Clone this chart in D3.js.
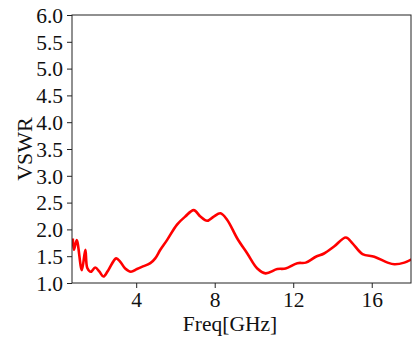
<!DOCTYPE html>
<html>
<head>
<meta charset="utf-8">
<script src="https://cdn.jsdelivr.net/npm/d3@7"></script>
<style>
  body { margin: 0; background: #fff; }
</style>
</head>
<body>
<svg id="chart" width="412" height="339"></svg>
<script>
// frequency (GHz) and VSWR
const freq = [0.77, 0.83, 0.97, 1.23, 1.41, 1.51, 1.69, 1.91, 2.13, 2.33, 2.58, 2.98, 3.18, 3.44, 3.73, 4.04, 4.29, 4.72, 4.97,
  5.23, 5.57, 6.08, 6.50, 6.93, 7.27, 7.61, 7.95, 8.29, 8.63, 9.15, 9.66, 10.17, 10.59, 11.19, 11.61, 12.21, 12.64,
  13.15, 13.57, 14.08, 14.68, 15.02, 15.53, 16.13, 16.81, 17.15, 17.66, 18.07];
const vswr = [1.83, 1.62, 1.80, 1.24, 1.62, 1.28, 1.21, 1.29, 1.21, 1.12, 1.24, 1.46, 1.40, 1.27, 1.21, 1.26, 1.30, 1.37, 1.46,
  1.62, 1.80, 2.09, 2.24, 2.36, 2.24, 2.16, 2.24, 2.30, 2.18, 1.83, 1.55, 1.27, 1.18, 1.26, 1.27, 1.37, 1.38,
  1.49, 1.55, 1.68, 1.85, 1.74, 1.54, 1.49, 1.38, 1.35, 1.38, 1.45];
const xTicks = [4, 8, 12, 16];
const yTicks = [1.0, 1.5, 2.0, 2.5, 3.0, 3.5, 4.0, 4.5, 5.0, 5.5, 6.0];

const serif = '"Liberation Serif", "Times New Roman", "DejaVu Serif", serif';
const fontSize = "21.5px";

const margin = {left: 72, right: 1, top: 15, bottom: 56};
const svg = d3.select("#chart");
const W = +svg.attr("width"), H = +svg.attr("height");

const x = d3.scaleLinear().domain([0.73, 18]).range([margin.left, W - margin.right]);
const y = d3.scaleLinear().domain([1, 6]).range([H - margin.bottom, margin.top]);

svg.append("clipPath").attr("id", "plotClip")
  .append("rect")
  .attr("x", margin.left).attr("y", margin.top)
  .attr("width", W - margin.right - margin.left)
  .attr("height", H - margin.bottom - margin.top);

//axes
const xAxis = svg.append("g")
  .attr("transform", `translate(0,${H - margin.bottom})`)
  .call(d3.axisBottom(x).tickValues(xTicks).tickSize(5).tickSizeOuter(0).tickPadding(4));
const yAxis = svg.append("g")
  .attr("transform", `translate(${margin.left},0)`)
  .call(d3.axisLeft(y).tickValues(yTicks).tickFormat(d3.format(".1f")).tickSize(5).tickSizeOuter(0).tickPadding(4));

[xAxis, yAxis].forEach(g => {
  g.attr("font-family", null).attr("font-size", null);
  g.select(".domain").remove();
  g.selectAll("text")
    .style("font-family", serif)
    .style("font-size", fontSize)
    .attr("fill", "#111");
  g.selectAll("line").attr("stroke", "#222");
});
yAxis.selectAll("text").attr("dy", "0.34em");

// line
const pts = freq.map((f, i) => [f, vswr[i]]);
const line = d3.line()
  .x(d => x(d[0]))
  .y(d => y(d[1]))
  .curve(d3.curveCatmullRom.alpha(0.5));

svg.append("path")
  .datum(pts)
  .attr("clip-path", "url(#plotClip)")
  .attr("fill", "none")
  .attr("stroke", "#ff0000")
  .attr("stroke-width", 2.6)
  .attr("stroke-linejoin", "round")
  .attr("d", line);

// frame
svg.append("rect")
  .attr("x", margin.left).attr("y", margin.top)
  .attr("width", W - margin.right - margin.left)
  .attr("height", H - margin.bottom - margin.top)
  .attr("fill", "none")
  .attr("stroke", "#222")
  .attr("stroke-width", 1);

// labels
svg.append("text")
  .attr("x", 230).attr("y", 331)
  .attr("text-anchor", "middle")
  .style("font-family", serif)
  .style("font-size", fontSize)
  .attr("fill", "#111")
  .text("Freq[GHz]");

svg.append("text")
  .attr("transform", `translate(32,${(margin.top + H - margin.bottom) / 2}) rotate(-90)`)
  .attr("text-anchor", "middle")
  .style("font-family", serif)
  .style("font-size", "22px")
  .attr("fill", "#111")
  .text("VSWR");
</script>
</body>
</html>
